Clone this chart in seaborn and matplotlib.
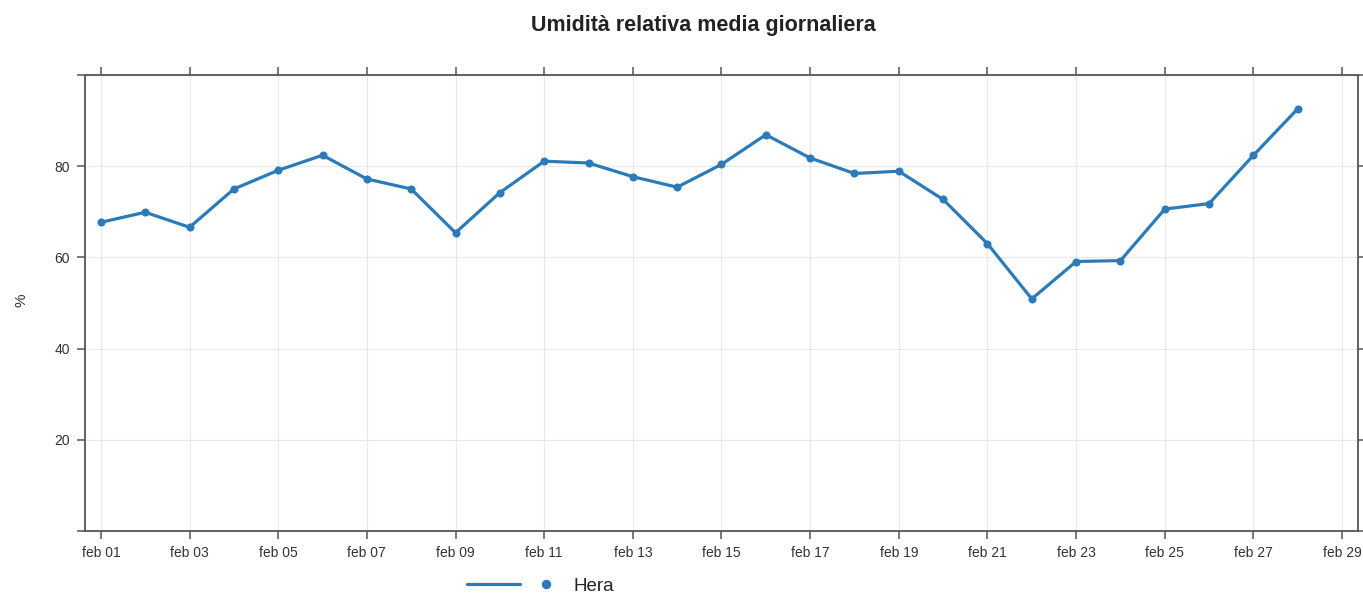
import numpy as np
import pandas as pd
import matplotlib
matplotlib.use("Agg")
import matplotlib.pyplot as plt
import matplotlib.dates as mdates
from matplotlib.lines import Line2D
from matplotlib.legend_handler import HandlerTuple
import seaborn as sns

dates = pd.date_range("2024-02-01", "2024-02-28", freq="D")
humidity = [67.7, 69.9, 66.6, 75.0, 79.1, 82.4, 77.2, 75.0, 65.4, 74.2,
            81.1, 80.7, 77.7, 75.4, 80.4, 86.9, 81.8, 78.4, 78.9, 72.7,
            63.0, 50.9, 59.1, 59.3, 70.6, 71.8, 82.4, 92.6]
series_name = "Hera"
title = "Umidità relativa media giornaliera"
ylabel = "%"
ytick_values = [0, 20, 40, 60, 80, 100]
ytick_labels = ["", "20", "40", "60", "80", ""]

df = pd.DataFrame({"data": dates, "umidita": humidity})

sns.set_theme(style="ticks")
plt.rcParams["font.family"] = ["Liberation Sans", "DejaVu Sans"]

color = "#2b7bb9"
fig = plt.figure(figsize=(13.63, 5.94), dpi=100)
ax = fig.add_axes([85 / 1363, 1 - 531 / 594, (1358 - 85) / 1363, (531 - 75) / 594])

sns.lineplot(data=df, x="data", y="umidita", ax=ax, color=color, linewidth=2.3,
             marker="o", markersize=5.8, markeredgewidth=0, legend=False)

ax.set_ylim(0, 100)
ax.set_yticks(ytick_values)
ax.set_yticklabels(ytick_labels)
start = pd.Timestamp("2024-02-01")
end = pd.Timestamp("2024-02-29")
pad = pd.Timedelta(hours=8.6)
ax.set_xlim(start - pad, end + pad)
ax.xaxis.set_major_locator(mdates.DayLocator(bymonthday=range(1, 30, 2)))
ax.xaxis.set_major_formatter(plt.FuncFormatter(
    lambda v, p: mdates.num2date(v).strftime("%b %d").lower()))

ax.grid(True, color="#e8e8e8", linewidth=0.8)
for s in ax.spines.values():
    s.set_color("#555555")
    s.set_linewidth(1.3)
ax.tick_params(axis="both", which="major", direction="out", length=6, width=1.1,
               color="#555555", labelsize=10, labelcolor="#333333",
               top=True, right=True, labeltop=False, labelright=False, pad=5)
ax.set_xlabel("")
ax.set_ylabel(ylabel, fontsize=11, color="#333333")
ax.yaxis.set_label_coords(-57 / 1273, 0.505)

fig.text(703 / 1363, 1 - 25 / 594, title, ha="center", va="center",
         fontsize=15.5, fontweight="bold", color="#222222")

h_line = Line2D([], [], color=color, linewidth=2.3)
h_mark = Line2D([], [], color=color, marker="o", markersize=5.8, linestyle="none")
fig.legend([(h_line, h_mark)], [series_name],
           handler_map={tuple: HandlerTuple(ndivide=None, pad=0.0)},
           loc="center left", bbox_to_anchor=(450 / 1363, 1 - 586 / 594),
           frameon=False, fontsize=13.5, handlelength=5.65, handletextpad=0.05)

fig.savefig("out.png", dpi=100)
